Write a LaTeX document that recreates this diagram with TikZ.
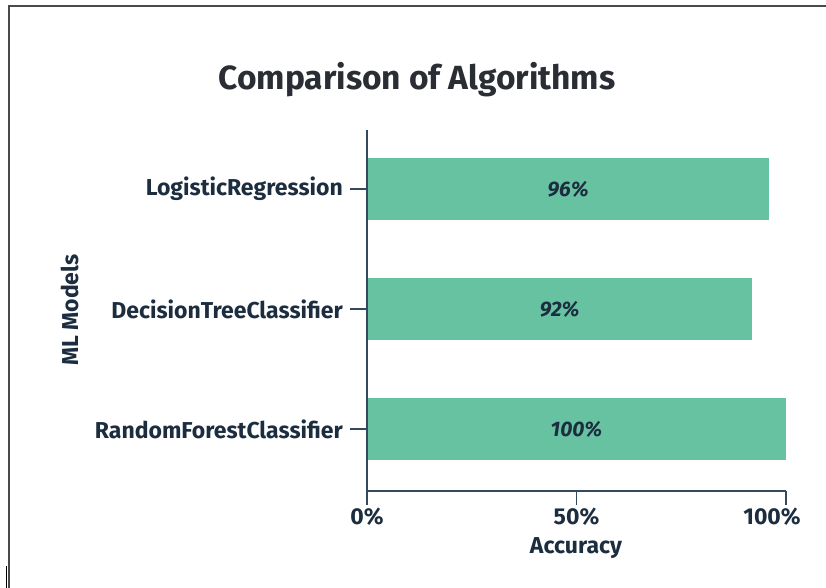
\documentclass[tikz,border=0pt]{standalone}
\usepackage{fontspec}
\setmainfont{Fira Sans}
\usetikzlibrary{positioning}
\definecolor{barfill}{HTML}{66C2A0}
\definecolor{ink}{HTML}{1C2D3F}
\definecolor{titleink}{HTML}{2A2D33}
\definecolor{axisline}{HTML}{34495E}
\definecolor{framegray}{HTML}{4A4A4A}
\newcommand{\fsz}[1]{\fontsize{#1}{#1}\selectfont}

\tikzset{
  bar/.style={fill=barfill, draw=none},
  axis/.style={draw=axisline, line width=1.2pt},
  modelname/.style={anchor=east, inner sep=0pt, text=ink, font=\bfseries\fsz{23}},
  ticklabel/.style={inner sep=0pt, text=ink, font=\bfseries\fsz{23}},
  barvalue/.style={inner sep=0pt, text=ink, font=\bfseries\itshape\fsz{21}},
  axistitle/.style={inner sep=0pt, text=ink, font=\bfseries\fsz{23}},
}

\begin{document}
\begin{tikzpicture}[x=1pt,y=-1pt]
  \useasboundingbox (0,0) rectangle (826,588);

  % frame round the chart
  \coordinate (FL) at (9,588);
  \coordinate (FC) at (9,6);
  \coordinate (FR) at (826,6);
  \draw[framegray, line width=1.6pt] (FL) -- (FC) -- (FR);
  \coordinate (K1) at (6.5,566);
  \coordinate (K2) at (6.5,588);
  \draw[black, line width=1pt] (K1) -- (K2);

  \node[font=\bfseries\fsz{33.5}, text=titleink] (title) at (417,80) {Comparison of Algorithms};

  % bars
  \foreach \name/\acc/\y in {LogisticRegression/96/189,
                             DecisionTreeClassifier/92/309,
                             RandomForestClassifier/100/429}{
    \fill[bar] (367,\y-31) rectangle (367+4.19*\acc,\y+31);
    \node[barvalue] (v\acc) at (367+2.095*\acc,\y) {\acc\%};
    \coordinate (yt\acc) at (350,\y);
    \coordinate (ya\acc) at (367,\y);
    \draw[axis] (yt\acc) -- (ya\acc);
    \node[modelname] (m\acc) at (343,\y) {\name};
  }

  % axes
  \coordinate (O) at (367,491);
  \coordinate (T) at (367,130);
  \coordinate (E) at (786,491);
  \draw[axis] (T) -- (O) -- (E);

  \foreach \v/\lx in {0/367,50/576.5,100/772}{
    \coordinate (xa\v) at (367+4.19*\v,491);
    \coordinate (xt\v) at (367+4.19*\v,505);
    \draw[axis] (xa\v) -- (xt\v);
    \node[ticklabel] (xl\v) at (\lx,517) {\v\%};
  }

  \node[axistitle] (xtitle) at (576,548) {Accuracy};
  \node[axistitle, rotate=90] (ytitle) at (70,310) {ML Models};
\end{tikzpicture}
\end{document}
